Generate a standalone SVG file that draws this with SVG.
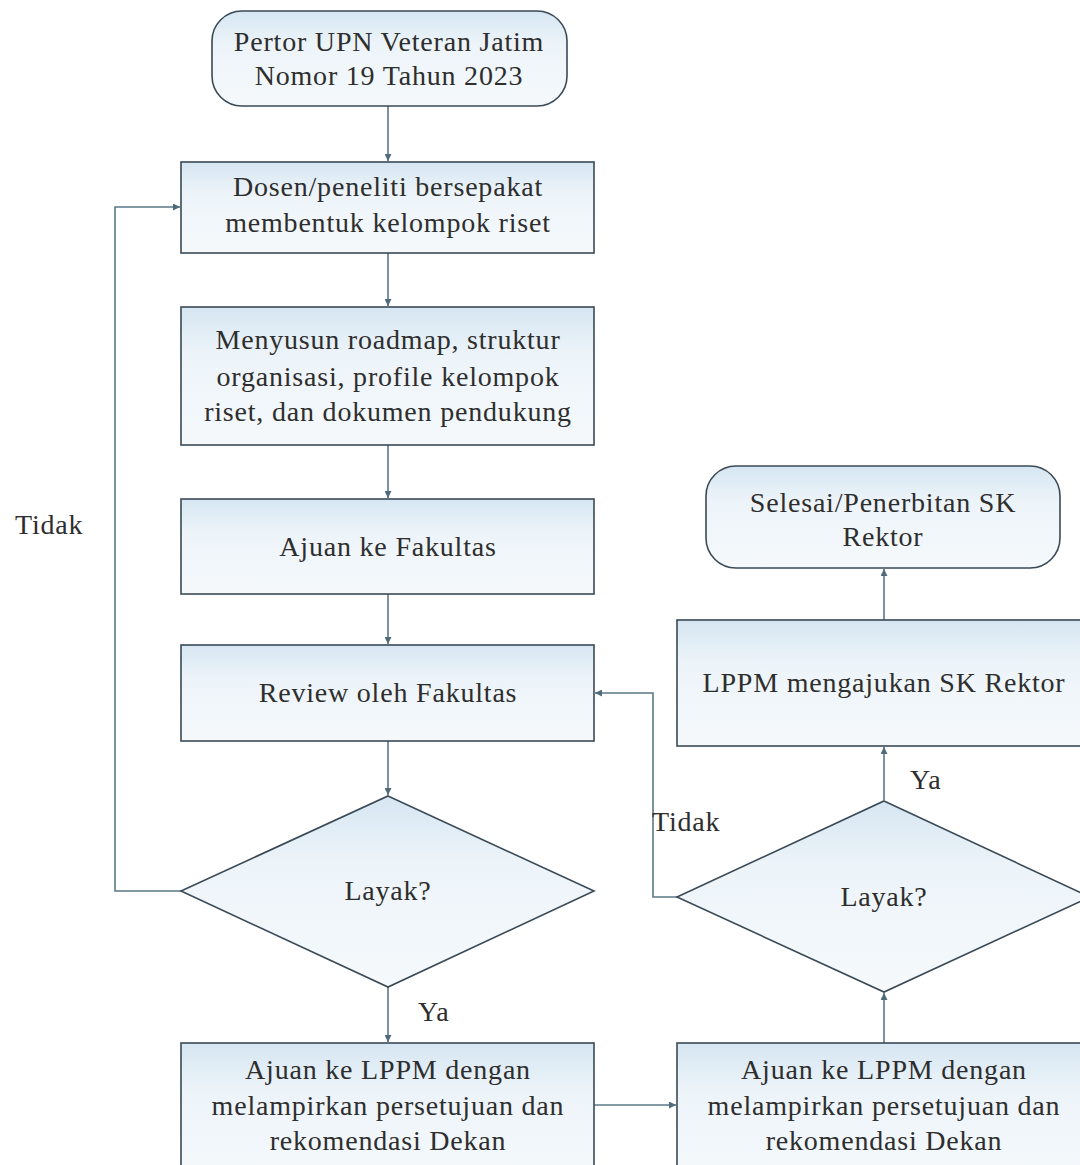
<svg xmlns="http://www.w3.org/2000/svg" width="1080" height="1165" viewBox="0 0 1080 1165">
<style>
.n{fill:url(#g);stroke:#3a4a56;stroke-width:1.6}
.t{font-family:'Liberation Serif','DejaVu Serif',serif;font-size:28px;letter-spacing:0.8px;fill:#2e2e2e;text-anchor:middle}
.l{font-family:'Liberation Serif','DejaVu Serif',serif;font-size:28px;letter-spacing:0.8px;fill:#2e2e2e}
.c{fill:none;stroke:#5b7889;stroke-width:1.6}
</style>
<defs>
<linearGradient id="g" x1="0" y1="0" x2="0" y2="1">
<stop offset="0" stop-color="#d6e6f2"/>
<stop offset="0.35" stop-color="#edf4f9"/>
<stop offset="1" stop-color="#f5f9fc"/>
</linearGradient>
<marker id="a" viewBox="0 0 10 10" refX="10" refY="5" markerWidth="7" markerHeight="7" orient="auto" markerUnits="userSpaceOnUse">
<path d="M0,0 L10,5 L0,10 z" fill="#4f6b7c"/>
</marker>
</defs>
<rect width="1080" height="1165" fill="#ffffff"/>
<g id="connectors">
<line class="c" x1="388" y1="106" x2="388" y2="161" marker-end="url(#a)"/>
<line class="c" x1="388" y1="253" x2="388" y2="306" marker-end="url(#a)"/>
<line class="c" x1="388" y1="445" x2="388" y2="498" marker-end="url(#a)"/>
<line class="c" x1="388" y1="594" x2="388" y2="644" marker-end="url(#a)"/>
<line class="c" x1="388" y1="741" x2="388" y2="795" marker-end="url(#a)"/>
<line class="c" x1="388" y1="987" x2="388" y2="1042" marker-end="url(#a)"/>
<polyline class="c" points="181,891 115,891 115,207 180,207" marker-end="url(#a)"/>
<line class="c" x1="594" y1="1105" x2="676" y2="1105" marker-end="url(#a)"/>
<line class="c" x1="884" y1="1043" x2="884" y2="993" marker-end="url(#a)"/>
<line class="c" x1="884" y1="800" x2="884" y2="747" marker-end="url(#a)"/>
<polyline class="c" points="677,897 653,897 653,693 595,693" marker-end="url(#a)"/>
<line class="c" x1="884" y1="620" x2="884" y2="569" marker-end="url(#a)"/>
<text class="l" x="15" y="534">Tidak</text>
<text class="l" x="418" y="1021">Ya</text>
<text class="l" x="652" y="831">Tidak</text>
<text class="l" x="910" y="789">Ya</text>
</g>
<g id="start">
<rect class="n" x="212" y="11" width="355" height="95" rx="30"/>
<text class="t" x="389" y="51">Pertor UPN Veteran Jatim</text>
<text class="t" x="389" y="85">Nomor 19 Tahun 2023</text>
</g>
<g id="box1">
<rect class="n" x="181" y="162" width="413" height="91"/>
<text class="t" x="388" y="196">Dosen/peneliti bersepakat</text>
<text class="t" x="388" y="232">membentuk kelompok riset</text>
</g>
<g id="box2">
<rect class="n" x="181" y="307" width="413" height="138"/>
<text class="t" x="388" y="349">Menyusun roadmap, struktur</text>
<text class="t" x="388" y="386">organisasi, profile kelompok</text>
<text class="t" x="388" y="421">riset, dan dokumen pendukung</text>
</g>
<g id="box3">
<rect class="n" x="181" y="499" width="413" height="95"/>
<text class="t" x="388" y="556">Ajuan ke Fakultas</text>
</g>
<g id="box4">
<rect class="n" x="181" y="645" width="413" height="96"/>
<text class="t" x="388" y="702">Review oleh Fakultas</text>
</g>
<g id="decision1">
<polygon class="n" points="388,796 594,891 388,987 181,891"/>
<text class="t" x="388" y="900">Layak?</text>
</g>
<g id="box5">
<rect class="n" x="181" y="1043" width="413" height="140"/>
<text class="t" x="388" y="1079">Ajuan ke LPPM dengan</text>
<text class="t" x="388" y="1115">melampirkan persetujuan dan</text>
<text class="t" x="388" y="1150">rekomendasi Dekan</text>
</g>
<g id="end">
<rect class="n" x="706" y="466" width="354" height="102" rx="30"/>
<text class="t" x="883" y="512">Selesai/Penerbitan SK</text>
<text class="t" x="883" y="546">Rektor</text>
</g>
<g id="box7">
<rect class="n" x="677" y="620" width="414" height="126"/>
<text class="t" x="884" y="692">LPPM mengajukan SK Rektor</text>
</g>
<g id="decision2">
<polygon class="n" points="884,801 1090,897 884,992 677,897"/>
<text class="t" x="884" y="906">Layak?</text>
</g>
<g id="box6">
<rect class="n" x="677" y="1043" width="414" height="140"/>
<text class="t" x="884" y="1079">Ajuan ke LPPM dengan</text>
<text class="t" x="884" y="1115">melampirkan persetujuan dan</text>
<text class="t" x="884" y="1150">rekomendasi Dekan</text>
</g>
</svg>
